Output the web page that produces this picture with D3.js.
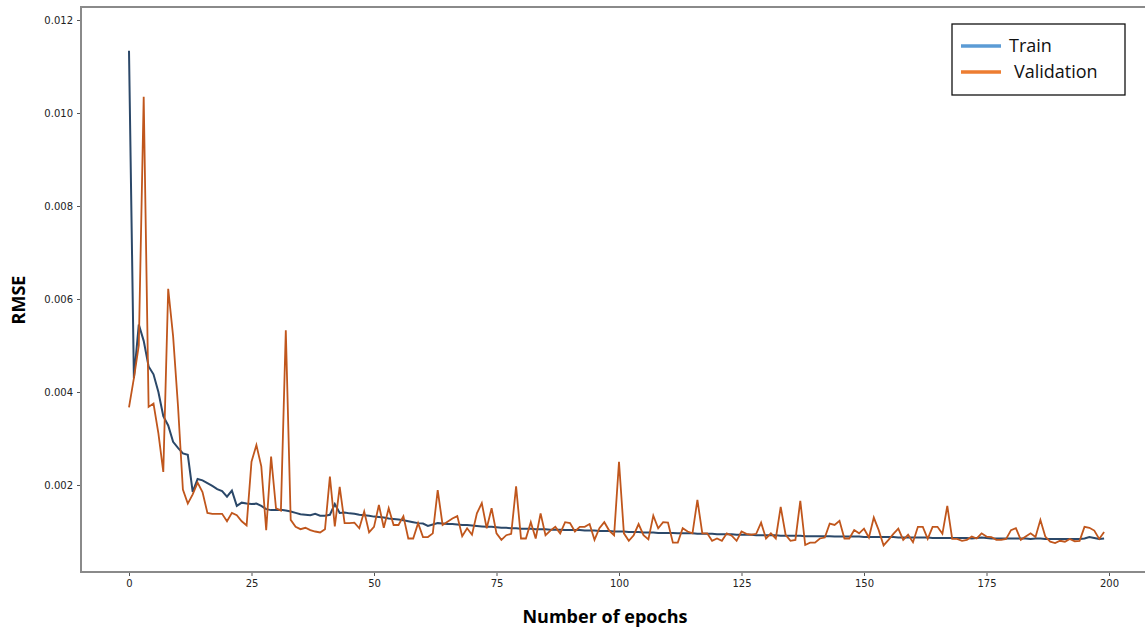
<!DOCTYPE html>
<html lang="en">

<head>
    <meta charset="UTF-8">
    <title>RMSE per epoch</title>
    <script src="https://d3js.org/d3.v7.min.js"></script>
    <style>
        body { margin: 0; background: #fff; }
        .tick text { font-family: "DejaVu Sans", sans-serif; font-size: 10px; fill: #222; }
    </style>
</head>

<body>
    <div id="chart"></div>

    <script>
        const epochs = d3.range(200);

        const trainRmse = [
            0.01134, 0.00430, 0.00545, 0.00510, 0.00455, 0.00438, 0.00400, 0.00348, 0.00328, 0.00293,
            0.00280, 0.00268, 0.00265, 0.00185, 0.00213, 0.00210, 0.00204, 0.00198, 0.00191, 0.00187,
            0.00175, 0.00188, 0.00155, 0.00162, 0.00160, 0.00159, 0.00160, 0.00155, 0.00148, 0.00146,
            0.00146, 0.00147, 0.00145, 0.00143, 0.00140, 0.00137, 0.00136, 0.00135, 0.00138, 0.00134,
            0.00134, 0.00136, 0.00159, 0.00140, 0.00141, 0.00139, 0.00138, 0.00136, 0.00135, 0.00134,
            0.00132, 0.00131, 0.00130, 0.00128, 0.00127, 0.00126, 0.00124, 0.00122, 0.00120, 0.00118,
            0.00117, 0.00112, 0.00115, 0.00118, 0.00117, 0.00116, 0.00116, 0.00115, 0.00114, 0.00114,
            0.00113, 0.00112, 0.00111, 0.00110, 0.00110, 0.00109, 0.00108, 0.00108, 0.00107, 0.00107,
            0.00106, 0.00106, 0.00106, 0.00105, 0.00105, 0.00105, 0.00104, 0.00104, 0.00104, 0.00103,
            0.00103, 0.00103, 0.00103, 0.00102, 0.00102, 0.00102, 0.00101, 0.00101, 0.00101, 0.00100,
            0.00100, 0.00100, 0.00099, 0.00099, 0.00099, 0.00098, 0.00098, 0.00098, 0.00097, 0.00097,
            0.00097, 0.00097, 0.00096, 0.00096, 0.00096, 0.00096, 0.00095, 0.00095, 0.00095, 0.00095,
            0.00094, 0.00094, 0.00094, 0.00094, 0.00093, 0.00093, 0.00093, 0.00093, 0.00092, 0.00092,
            0.00092, 0.00092, 0.00092, 0.00091, 0.00091, 0.00091, 0.00091, 0.00091, 0.00090, 0.00090,
            0.00090, 0.00090, 0.00090, 0.00090, 0.00089, 0.00089, 0.00089, 0.00089, 0.00089, 0.00089,
            0.00088, 0.00088, 0.00088, 0.00088, 0.00088, 0.00088, 0.00088, 0.00087, 0.00087, 0.00087,
            0.00087, 0.00087, 0.00087, 0.00087, 0.00086, 0.00086, 0.00086, 0.00086, 0.00086, 0.00086,
            0.00086, 0.00086, 0.00085, 0.00086, 0.00087, 0.00086, 0.00085, 0.00085, 0.00085, 0.00085,
            0.00085, 0.00085, 0.00085, 0.00085, 0.00084, 0.00085, 0.00085, 0.00084, 0.00084, 0.00084,
            0.00084, 0.00084, 0.00084, 0.00084, 0.00084, 0.00085, 0.00088, 0.00086, 0.00084, 0.00085
        ];

        const validationRmse = [
            0.00367, 0.00430, 0.00500, 0.01035, 0.00368, 0.00375, 0.00311, 0.00228, 0.00622, 0.00520,
            0.00370, 0.00190, 0.00160, 0.00180, 0.00205, 0.00185, 0.00140, 0.00138, 0.00138, 0.00138,
            0.00122, 0.00140, 0.00135, 0.00122, 0.00113, 0.00250, 0.00286, 0.00240, 0.00103, 0.00261,
            0.00150, 0.00145, 0.00533, 0.00125, 0.00110, 0.00105, 0.00108, 0.00103, 0.00100, 0.00098,
            0.00105, 0.00218, 0.00111, 0.00196, 0.00118, 0.00118, 0.00119, 0.00107, 0.00143, 0.00098,
            0.00110, 0.00157, 0.00108, 0.00150, 0.00114, 0.00114, 0.00133, 0.00085, 0.00085, 0.00118,
            0.00088, 0.00088, 0.00096, 0.00189, 0.00114, 0.00121, 0.00128, 0.00133, 0.00090, 0.00107,
            0.00093, 0.00139, 0.00161, 0.00107, 0.00150, 0.00096, 0.00082, 0.00092, 0.00095, 0.00197,
            0.00085, 0.00085, 0.00120, 0.00085, 0.00139, 0.00092, 0.00102, 0.00110, 0.00096, 0.00120,
            0.00118, 0.00100, 0.00110, 0.00110, 0.00116, 0.00082, 0.00107, 0.00120, 0.00102, 0.00092,
            0.00250, 0.00096, 0.00080, 0.00092, 0.00116, 0.00092, 0.00083, 0.00134, 0.00107, 0.00120,
            0.00119, 0.00076, 0.00076, 0.00107, 0.00100, 0.00096, 0.00168, 0.00096, 0.00096, 0.00080,
            0.00085, 0.00080, 0.00096, 0.00091, 0.00080, 0.00100, 0.00095, 0.00093, 0.00095, 0.00119,
            0.00085, 0.00096, 0.00085, 0.00153, 0.00093, 0.00080, 0.00082, 0.00166, 0.00071, 0.00076,
            0.00076, 0.00085, 0.00087, 0.00117, 0.00114, 0.00123, 0.00085, 0.00085, 0.00103, 0.00096,
            0.00106, 0.00087, 0.00130, 0.00103, 0.00070, 0.00082, 0.00095, 0.00106, 0.00082, 0.00093,
            0.00077, 0.00110, 0.00110, 0.00084, 0.00110, 0.00110, 0.00095, 0.00155, 0.00084, 0.00084,
            0.00080, 0.00082, 0.00089, 0.00085, 0.00096, 0.00089, 0.00088, 0.00082, 0.00082, 0.00084,
            0.00103, 0.00107, 0.00082, 0.00089, 0.00096, 0.00088, 0.00125, 0.00089, 0.00078, 0.00075,
            0.00080, 0.00078, 0.00084, 0.00079, 0.00080, 0.00110, 0.00108, 0.00102, 0.00084, 0.00099
        ];

        const xTicks = [0, 25, 50, 75, 100, 125, 150, 175, 200];
        const yTicks = [0.002, 0.004, 0.006, 0.008, 0.010, 0.012];
        const seriesNames = ["Train", "Validation"];

        const width = 1145;
        const height = 629;
        // plot frame (the right side runs past the picture edge)
        const frame = { left: 81, top: 7, right: 1160, bottom: 572 };

        const svg = d3.select("#chart")
            .append("svg")
            .attr("width", width)
            .attr("height", height);

        const x = d3.scaleLinear()
            .domain([0, 200])
            .range([129, 1109]);

        const y = d3.scaleLinear()
            .domain([0, 0.012])
            .range([578, 20]);

        // axes
        svg.append("g")
            .attr("transform", `translate(0, ${frame.bottom})`)
            .call(d3.axisBottom(x).tickValues(xTicks).tickSize(4).tickPadding(4).tickFormat(d3.format("d")))
            .call(g => g.select(".domain").remove())
            .call(g => g.selectAll(".tick line").attr("stroke", "#555"));

        svg.append("g")
            .attr("transform", `translate(${frame.left}, 0)`)
            .call(d3.axisLeft(y).tickValues(yTicks).tickSize(4).tickPadding(4).tickFormat(d3.format(".3f")))
            .call(g => g.select(".domain").remove())
            .call(g => g.selectAll(".tick line").attr("stroke", "#555"));

        svg.append("rect")
            .attr("x", frame.left)
            .attr("y", frame.top)
            .attr("width", frame.right - frame.left)
            .attr("height", frame.bottom - frame.top)
            .attr("fill", "none")
            .attr("stroke", "#8a8a8a")
            .attr("stroke-width", 2);

        const line = values => d3.line()
            .x((d, i) => x(epochs[i]))
            .y(d => y(d))(values);

        svg.append("path")
            .attr("d", line(trainRmse))
            .attr("fill", "none")
            .attr("stroke", "#2b4869")
            .attr("stroke-width", 2);

        svg.append("path")
            .attr("d", line(validationRmse))
            .attr("fill", "none")
            .attr("stroke", "#c0561c")
            .attr("stroke-width", 1.8);

        // axis titles
        svg.append("text")
            .attr("x", 605)
            .attr("y", 623)
            .attr("text-anchor", "middle")
            .style("font-family", "'Open Sans', sans-serif")
            .style("font-weight", "bold")
            .style("font-size", "18px")
            .text("Number of epochs");

        svg.append("text")
            .attr("transform", "translate(25, 300) rotate(-90)")
            .attr("text-anchor", "middle")
            .style("font-family", "'Open Sans', sans-serif")
            .style("font-weight", "bold")
            .style("font-size", "18px")
            .text("RMSE");

        // legend
        const legend = svg.append("g");

        legend.append("rect")
            .attr("x", 952)
            .attr("y", 24)
            .attr("width", 173)
            .attr("height", 71)
            .attr("fill", "#fff")
            .attr("stroke", "#111")
            .attr("stroke-width", 1.3);

        const legendColors = ["#5b9bd5", "#ed7d31"];
        const legendRows = [{ ly: 46, tx: 1009 }, { ly: 72, tx: 1014 }];

        seriesNames.forEach((name, i) => {
            legend.append("line")
                .attr("x1", 961)
                .attr("x2", 1001)
                .attr("y1", legendRows[i].ly)
                .attr("y2", legendRows[i].ly)
                .attr("stroke", legendColors[i])
                .attr("stroke-width", 3.5);

            legend.append("text")
                .attr("x", legendRows[i].tx)
                .attr("y", legendRows[i].ly + 6)
                .style("font-family", "'Open Sans', sans-serif")
                .style("font-size", "18px")
                .attr("fill", "#111")
                .text(name);
        });
    </script>
</body>

</html>
